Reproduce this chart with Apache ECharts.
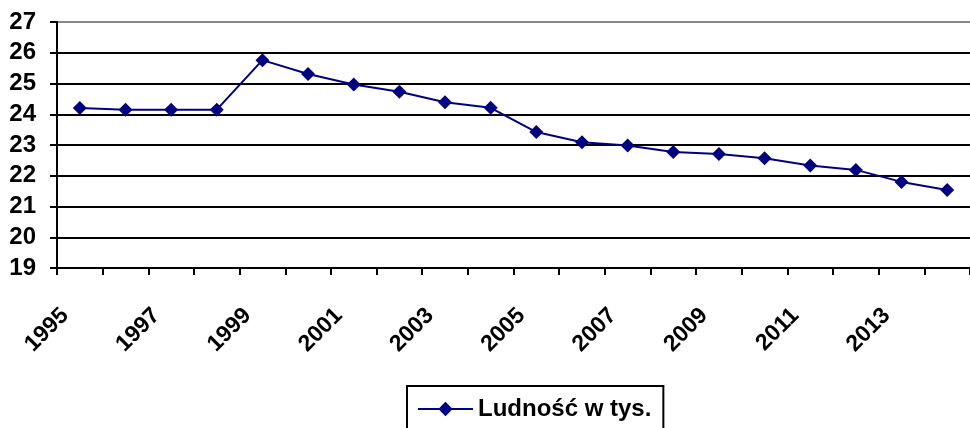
<!DOCTYPE html>
<html>
<head>
<meta charset="utf-8">
<script src="https://cdn.jsdelivr.net/npm/echarts@6/dist/echarts.min.js"></script>
<style>
html, body { margin: 0; padding: 0; background: #fff; }
#chart { width: 970px; height: 428px; }
</style>
</head>
<body>
<div id="chart"></div>
<script>
// lata i ludność (tys.)
const years = ['1995','1996','1997','1998','1999','2000','2001','2002','2003','2004',
               '2005','2006','2007','2008','2009','2010','2011','2012','2013','2014'];
const ludnosc = [24.2, 24.15, 24.15, 24.15, 25.76, 25.31, 24.97, 24.73, 24.39, 24.21,
                 23.42, 23.09, 22.98, 22.77, 22.71, 22.57, 22.33, 22.19, 21.8, 21.54];
const seriesName = 'Ludność w tys.';

const font = '"Liberation Sans", Arial, sans-serif';

let chart = echarts.init(document.getElementById('chart'));
chart.setOption({
    animation: false,
    backgroundColor: '#fff',
    grid: { left: 57, right: -10, top: 22, bottom: 160 },
    legend: {
        data: [seriesName],
        top: 386,
        left: 407,
        borderColor: '#000',
        borderWidth: 2,
        borderRadius: 0,
        padding: [11, 12, 30, 10],
        itemWidth: 55,
        itemHeight: 18,
        textStyle: { fontFamily: font, fontWeight: 'bold', fontSize: 24, color: '#000' }
    },
    xAxis: {
        type: 'category',
        data: years,
        boundaryGap: true,
        axisLine: { lineStyle: { color: '#000', width: 2 } },
        axisTick: { show: true, interval: 0, length: 7, lineStyle: { color: '#000', width: 2 } },
        axisLabel: {
            interval: 1,
            rotate: 45,
            margin: 29,
            padding: [0, 21, 0, 0],
            color: '#000',
            fontFamily: font,
            fontWeight: 'bold',
            fontSize: 23
        },
        splitLine: { show: false }
    },
    yAxis: {
        type: 'value',
        min: 19,
        max: 27,
        interval: 1,
        axisLine: { show: true, lineStyle: { color: '#000', width: 2 } },
        axisTick: { show: true, length: 7, lineStyle: { color: '#000', width: 2 } },
        axisLabel: {
            margin: 21,
            color: '#000',
            fontFamily: font,
            fontWeight: 'bold',
            fontSize: 24
        },
        splitLine: {
            show: true,
            lineStyle: {
                color: ['#000','#000','#000','#000','#000','#000','#000','#000','#888'],
                width: 2
            }
        }
    },
    series: [{
        name: seriesName,
        type: 'line',
        data: ludnosc,
        symbol: 'diamond',
        symbolSize: 14,
        lineStyle: { color: '#000080', width: 2 },
        itemStyle: { color: '#000080' }
    }]
});
window.addEventListener('resize', () => {
    chart.resize()
})
</script>
</body>
</html>
